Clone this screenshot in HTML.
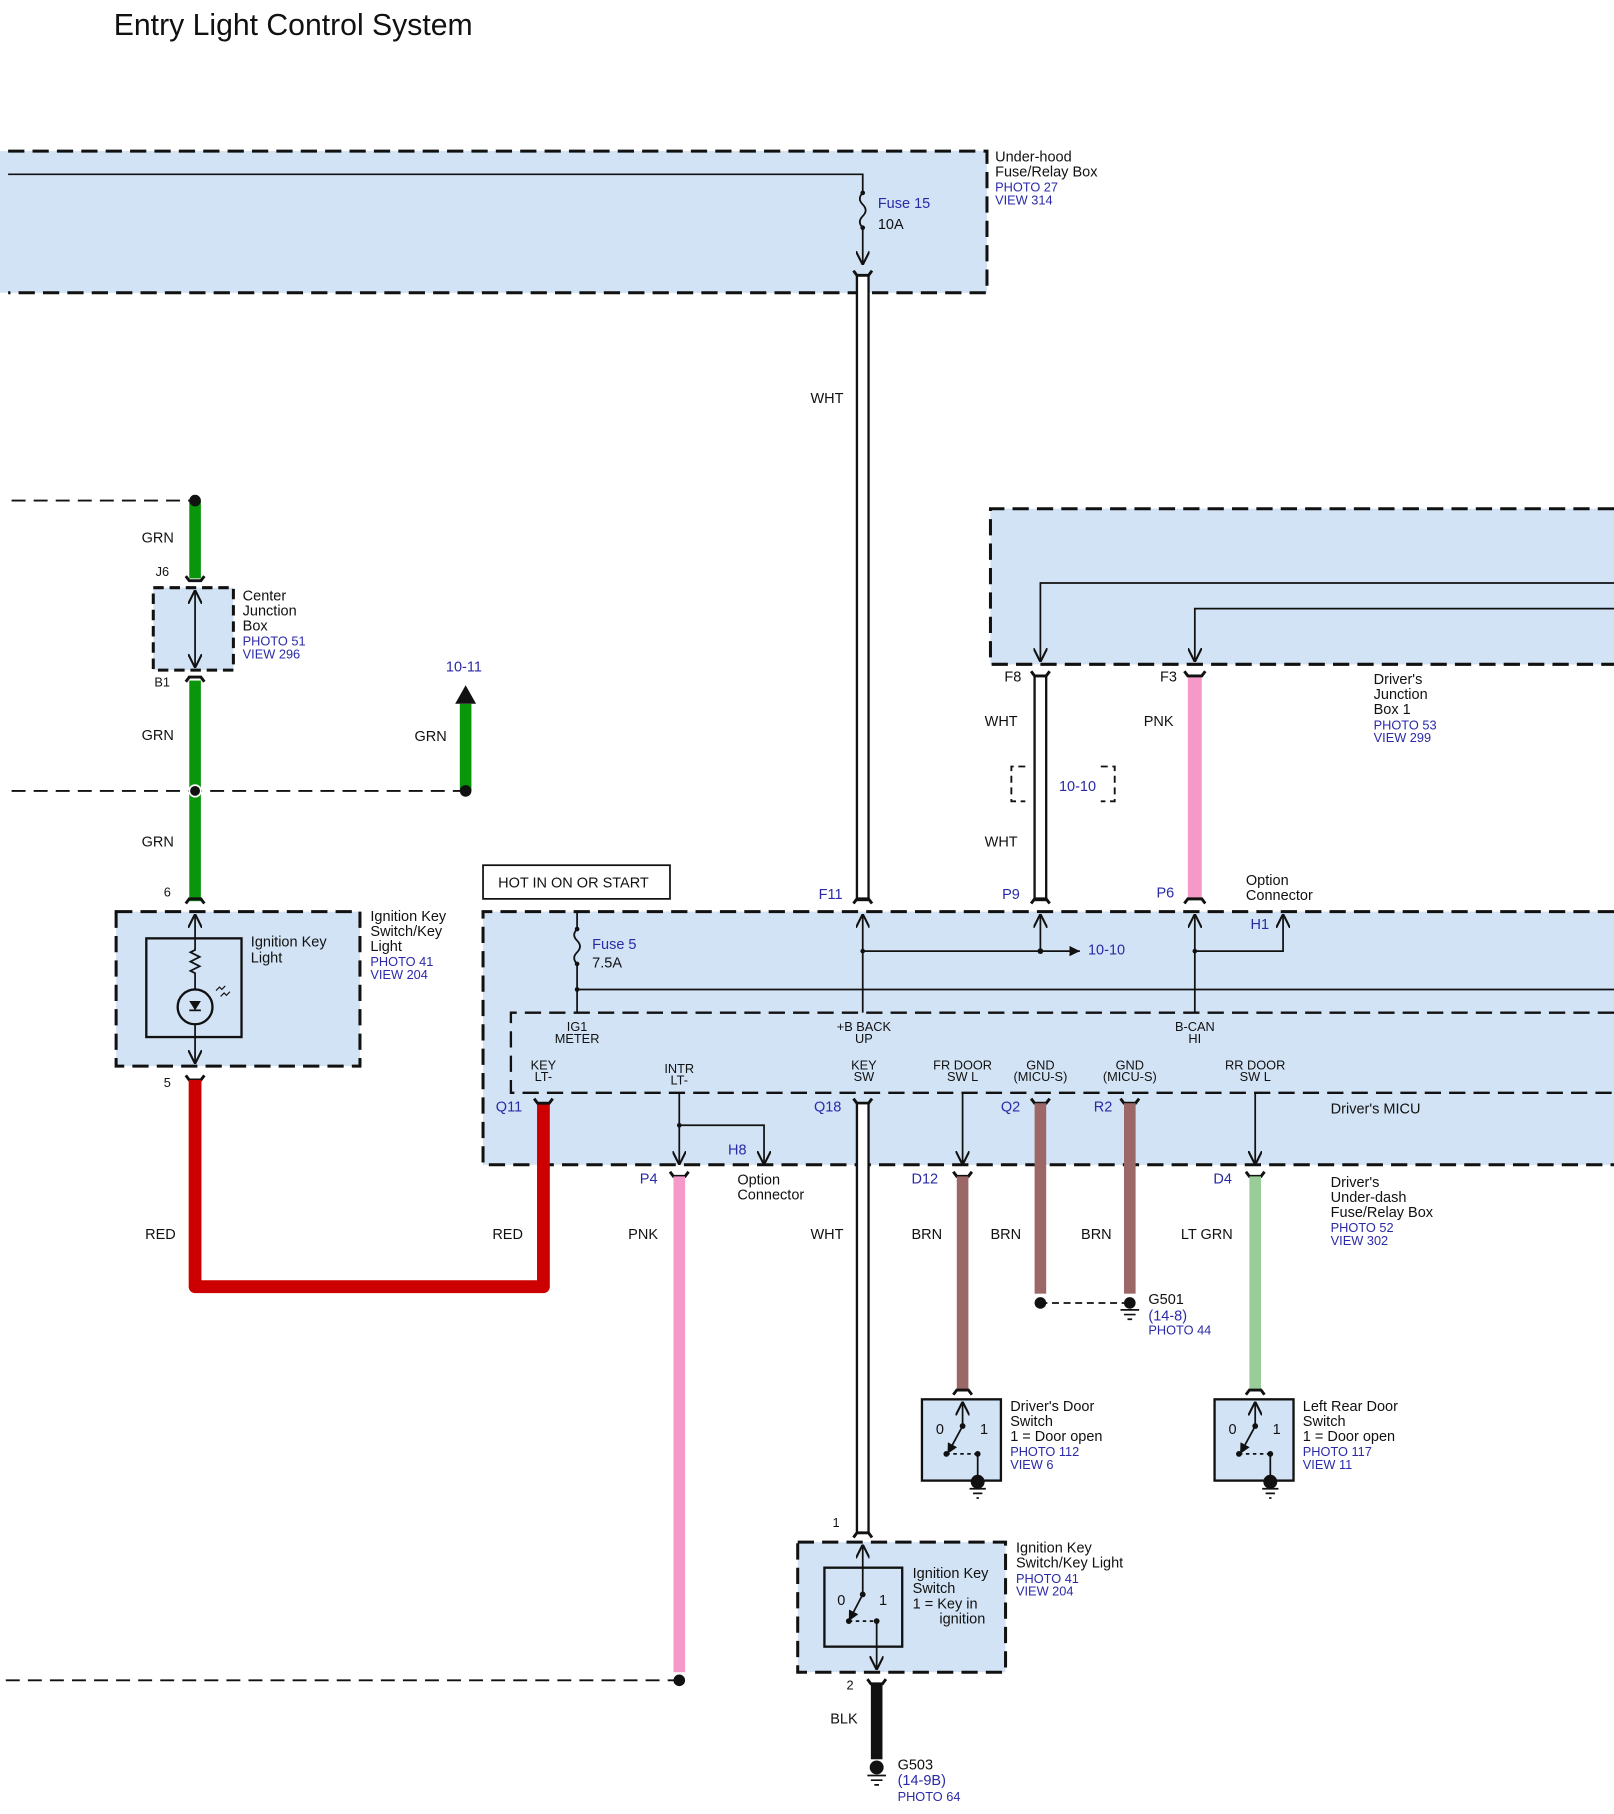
<!DOCTYPE html>
<html><head><meta charset="utf-8"><style>
html,body{margin:0;padding:0;background:#fff;}
svg{display:block;}
text{font-family:"Liberation Sans",sans-serif;font-size:12.5px;fill:#111;}
.b{fill:#2a2aa8;font-size:11px;}
.bl{fill:#2a2aa8;font-size:12.5px;}
.s{font-size:11px;}
.box{fill:#d2e3f5;stroke:#111;stroke-width:2.6;stroke-dasharray:14 7;}
.ln{stroke:#111;stroke-width:1.5;fill:none;}
.dash{stroke:#111;stroke-width:1.6;stroke-dasharray:12 7;fill:none;}
.c{stroke:#111;stroke-width:2.5;fill:none;}
</style></head><body>
<svg width="1614" height="1814" viewBox="0 0 1390 1562" xmlns="http://www.w3.org/2000/svg">
<defs>
<marker id="a" viewBox="0 0 10 10" refX="10" refY="5" markerWidth="8" markerHeight="8" orient="auto-start-reverse"><path d="M0,0 L10,5 L0,10" fill="none" stroke="#111" stroke-width="1.5"/></marker>
<marker id="af" viewBox="0 0 10 10" refX="10" refY="5" markerWidth="6" markerHeight="6" orient="auto"><path d="M0,0 L10,5 L0,10 z" fill="#111"/></marker>
</defs>
<text x="98" y="30" style="font-size:26px">Entry Light Control System</text>

<!-- Under-hood box -->
<path d="M0,130 H850 V252 H0 Z" fill="#d2e3f5"/>
<path d="M7,130 H850 V252 H7" class="box" fill="none"/>
<path d="M7,150 H743 V166" class="ln"/>
<path d="M743,166 q-5,5 0,10 q5,5 0,10 q-5,5 0,10" class="ln"/>
<circle cx="743" cy="166" r="2" fill="#111"/><circle cx="743" cy="196" r="2" fill="#111"/>
<path d="M743,196 V228" class="ln" marker-end="url(#a)"/>
<text x="756" y="179" class="bl">Fuse 15</text><text x="756" y="197">10A</text>
<text x="857" y="139">Under-hood</text><text x="857" y="152">Fuse/Relay Box</text>
<text x="857" y="165" class="b">PHOTO 27</text><text x="857" y="176" class="b">VIEW 314</text>

<!-- WHT main wire -->
<rect x="738" y="237" width="10" height="538" fill="#fff" stroke="#111" stroke-width="2"/>
<path d="M735,233 l3,4 h10 l3,-4" class="c"/>
<text x="698" y="347">WHT</text>

<!-- Driver's junction box 1 -->
<path d="M853,438 H1390 V572 H853 Z" fill="#d2e3f5"/>
<path d="M1390,438 H853 V572 H1390" class="box" fill="none"/>
<path d="M1390,502 H896 V570" class="ln" marker-end="url(#a)"/>
<path d="M1390,524 H1029 V570" class="ln" marker-end="url(#a)"/>
<text x="865" y="587">F8</text><text x="999" y="587">F3</text>
<rect x="891" y="582" width="10" height="193" fill="#fff" stroke="#111" stroke-width="2"/>
<path d="M888,578 l3,4 h10 l3,-4" class="c"/>
<rect x="1023" y="582" width="12" height="193" fill="#f59ac8"/>
<path d="M1020,578 l3,4 h12 l3,-4" class="c"/>
<text x="848" y="625">WHT</text><text x="985" y="625">PNK</text><text x="848" y="729">WHT</text>
<path d="M883,660 h-12 v30 h12 M948,660 h12 v30 h-12" class="dash" style="stroke-dasharray:6 4"/>
<text x="912" y="681" class="bl">10-10</text>
<text x="1183" y="589">Driver's</text><text x="1183" y="602">Junction</text><text x="1183" y="615">Box 1</text>
<text x="1183" y="628" class="b">PHOTO 53</text><text x="1183" y="639" class="b">VIEW 299</text>

<!-- GRN left -->
<path d="M10,431 H168" class="dash"/>
<rect x="163" y="431" width="10" height="67" fill="#0a960a"/>
<circle cx="168" cy="431" r="5" fill="#111"/>
<text x="122" y="467">GRN</text><text x="134" y="496" class="s">J6</text>
<path d="M160,496 l3,4 h10 l3,-4" class="c"/>
<rect x="132" y="506" width="69" height="71" class="box" style="stroke-dasharray:9 5"/>
<path d="M168,508 V575" class="ln" marker-start="url(#a)" marker-end="url(#a)"/>
<text x="209" y="517">Center</text><text x="209" y="530">Junction</text><text x="209" y="543">Box</text>
<text x="209" y="556" class="b">PHOTO 51</text><text x="209" y="567" class="b">VIEW 296</text>
<text x="133" y="591" class="s">B1</text>
<path d="M160,587 l3,-4 h10 l3,4" class="c"/>
<rect x="163" y="586" width="10" height="190" fill="#0a960a"/>
<text x="122" y="637">GRN</text>
<path d="M10,681 H401" class="dash"/>
<circle cx="168" cy="681" r="5" fill="#111" stroke="#fff" stroke-width="1.5"/>
<rect x="396" y="606" width="10" height="75" fill="#0a960a"/>
<path d="M392,606 L401,590 L410,606 Z" fill="#111"/>
<circle cx="401" cy="681" r="5" fill="#111"/>
<text x="384" y="578" class="bl">10-11</text><text x="357" y="638">GRN</text>
<text x="122" y="729">GRN</text><text x="141" y="772" class="s">6</text>
<path d="M160,778 l3,-4 h10 l3,4" class="c"/>

<!-- Ignition key light -->
<rect x="100" y="785" width="210" height="133" class="box"/>
<rect x="126" y="808" width="82" height="85" fill="none" stroke="#111" stroke-width="2"/>
<path d="M168,787 V818 l-4,2 l8,4 l-8,4 l8,4 l-8,4 l4,2 V852" class="ln" marker-start="url(#a)"/>
<circle cx="168" cy="867" r="15" fill="none" stroke="#111" stroke-width="2"/>
<path d="M163,862 h10 l-5,8 z" fill="#111"/><path d="M163,870 h10" class="ln"/>
<path d="M168,882 V916" class="ln" marker-end="url(#a)"/>
<path d="M186,853 l3,-3 l2,2 l3,-3 M190,858 l3,-3 l2,2 l3,-3" class="ln" style="stroke-width:1"/>
<text x="216" y="815">Ignition Key</text><text x="216" y="829">Light</text>
<text x="319" y="793">Ignition Key</text><text x="319" y="806">Switch/Key</text><text x="319" y="819">Light</text>
<text x="319" y="832" class="b">PHOTO 41</text><text x="319" y="843" class="b">VIEW 204</text>
<text x="141" y="936" class="s">5</text>
<path d="M160,926 l3,4 h10 l3,-4" class="c"/>
<text x="125" y="1067">RED</text><text x="424" y="1067">RED</text>

<!-- HOT box -->
<rect x="416" y="745" width="161" height="29" fill="#fff" stroke="#111" stroke-width="1.5"/>
<text x="429" y="764">HOT IN ON OR START</text>

<!-- MICU -->
<path d="M1390,785 H416 V1003 H1390 Z" fill="#d2e3f5"/>
<path d="M1390,785 H416 V1003 H1390" class="box" fill="none"/>
<path d="M1390,872 H440 V941 H1390" class="box" style="fill:none;stroke-width:2"/>
<path d="M168,930 V1108 H468 V950" fill="none" stroke="#cc0000" stroke-width="11" stroke-linejoin="round"/>
<text x="705" y="774" class="bl">F11</text><text x="863" y="774" class="bl">P9</text><text x="996" y="773" class="bl">P6</text>
<path d="M735,778 l3,-4 h10 l3,4" class="c"/>
<path d="M888,778 l3,-4 h10 l3,4" class="c"/>
<path d="M1020,778 l3,-4 h12 l3,4" class="c"/>
<text x="1073" y="762">Option</text><text x="1073" y="775">Connector</text>
<!-- fuse 5 -->
<path d="M497,785 V800 q-5,5 0,10 q5,5 0,10 q-5,5 0,10 V872" class="ln"/>
<circle cx="497" cy="800" r="2" fill="#111"/><circle cx="497" cy="830" r="2" fill="#111"/><circle cx="497" cy="852" r="2" fill="#111"/>
<text x="510" y="817" class="bl">Fuse 5</text><text x="510" y="833">7.5A</text>
<path d="M497,852 H1390" class="ln"/>
<path d="M743,787 V872" class="ln" marker-start="url(#a)"/>
<path d="M743,819 H930" class="ln" marker-end="url(#af)"/>
<circle cx="896" cy="819" r="2.5" fill="#111"/><circle cx="743" cy="819" r="2" fill="#111"/>
<path d="M896,819 V787" class="ln" marker-end="url(#a)"/>
<text x="937" y="822" class="bl">10-10</text>
<path d="M1029,787 V872" class="ln" marker-start="url(#a)"/>
<path d="M1029,819 H1105 V787" class="ln" marker-end="url(#a)"/>
<circle cx="1029" cy="819" r="2" fill="#111"/>
<text x="1077" y="800" class="bl">H1</text>
<g class="s" text-anchor="middle">
<text x="497" y="888" class="s">IG1</text><text x="497" y="898" class="s">METER</text>
<text x="744" y="888" class="s">+B BACK</text><text x="744" y="898" class="s">UP</text>
<text x="1029" y="888" class="s">B-CAN</text><text x="1029" y="898" class="s">HI</text>
<text x="468" y="921" class="s">KEY</text><text x="468" y="931" class="s">LT-</text>
<text x="585" y="924" class="s">INTR</text><text x="585" y="934" class="s">LT-</text>
<text x="744" y="921" class="s">KEY</text><text x="744" y="931" class="s">SW</text>
<text x="829" y="921" class="s">FR DOOR</text><text x="829" y="931" class="s">SW L</text>
<text x="896" y="921" class="s">GND</text><text x="896" y="931" class="s">(MICU-S)</text>
<text x="973" y="921" class="s">GND</text><text x="973" y="931" class="s">(MICU-S)</text>
<text x="1081" y="921" class="s">RR DOOR</text><text x="1081" y="931" class="s">SW L</text>
</g>
<text x="427" y="957" class="bl">Q11</text><text x="701" y="957" class="bl">Q18</text>
<text x="862" y="957" class="bl">Q2</text><text x="942" y="957" class="bl">R2</text>
<text x="1146" y="959">Driver's MICU</text>
<path d="M460,946 l3,4 h10 l3,-4" class="c"/>
<path d="M735,946 l3,4 h10 l3,-4" class="c"/>
<path d="M888,946 l3,4 h10 l3,-4" class="c"/>
<path d="M965,946 l3,4 h10 l3,-4" class="c"/>
<!-- INTR -->
<path d="M585,941 V1003" class="ln" marker-end="url(#a)"/>
<path d="M585,969 H658 V1003" class="ln" marker-end="url(#a)"/>
<circle cx="585" cy="969" r="2" fill="#111"/>
<text x="627" y="994" class="bl">H8</text>
<text x="551" y="1019" class="bl">P4</text>
<text x="635" y="1020">Option</text><text x="635" y="1033">Connector</text>
<path d="M577,1009 l3,4 h10 l3,-4" class="c"/>
<rect x="580" y="1013" width="10" height="427" fill="#f59ac8"/>
<path d="M5,1447 H585" class="dash"/>
<circle cx="585" cy="1447" r="5" fill="#111"/>
<text x="541" y="1067">PNK</text>
<!-- KEY SW -->
<rect x="738" y="950" width="10" height="370" fill="#fff" stroke="#111" stroke-width="2"/>
<text x="698" y="1067">WHT</text>
<!-- FR DOOR -->
<path d="M829,941 V1003" class="ln" marker-end="url(#a)"/>
<text x="785" y="1019" class="bl">D12</text>
<path d="M821,1009 l3,4 h10 l3,-4" class="c"/>
<rect x="824" y="1013" width="10" height="185" fill="#9c6767"/>
<text x="785" y="1067">BRN</text>
<rect x="891" y="950" width="10" height="164" fill="#9c6767"/>
<rect x="968" y="950" width="10" height="164" fill="#9c6767"/>
<text x="853" y="1067">BRN</text><text x="931" y="1067">BRN</text>
<circle cx="896" cy="1122" r="5" fill="#111"/>
<path d="M896,1122 H973" class="ln" stroke-dasharray="6 4"/>
<circle cx="973" cy="1122" r="5" fill="#111"/>
<path d="M965,1128 h16 M968,1132 h10 M971,1136 h4" class="ln"/>
<text x="989" y="1123">G501</text><text x="989" y="1137" class="bl">(14-8)</text><text x="989" y="1149" class="b">PHOTO 44</text>
<!-- RR DOOR -->
<path d="M1081,941 V1003" class="ln" marker-end="url(#a)"/>
<text x="1045" y="1019" class="bl">D4</text>
<path d="M1073,1009 l3,4 h10 l3,-4" class="c"/>
<rect x="1076" y="1013" width="10" height="185" fill="#99cc99"/>
<text x="1017" y="1067">LT GRN</text>
<text x="1146" y="1022">Driver's</text><text x="1146" y="1035">Under-dash</text><text x="1146" y="1048">Fuse/Relay Box</text>
<text x="1146" y="1061" class="b">PHOTO 52</text><text x="1146" y="1072" class="b">VIEW 302</text>

<!-- door switches -->
<g id="sw1">
<path d="M821,1201 l3,-4 h10 l3,4" class="c"/>
<rect x="794" y="1205" width="68" height="70" fill="#d2e3f5" stroke="#111" stroke-width="2"/>
<path d="M829,1227 V1207" class="ln" marker-end="url(#a)"/>
<circle cx="829" cy="1228" r="2.5" fill="#111"/>
<path d="M829,1228 L816,1252" class="ln" marker-end="url(#af)"/>
<circle cx="815" cy="1252" r="2.5" fill="#111"/><circle cx="842" cy="1252" r="2.5" fill="#111"/>
<path d="M815,1252 H842" class="ln" stroke-dasharray="3 3"/>
<path d="M842,1252 V1275" class="ln" stroke-width="2"/>
<circle cx="842" cy="1276" r="6" fill="#111"/>
<path d="M835,1282 h14 M838,1286 h8 M841,1290 h2" class="ln"/>
<text x="806" y="1235">0</text><text x="844" y="1235">1</text>
</g>
<text x="870" y="1215">Driver's Door</text><text x="870" y="1228">Switch</text><text x="870" y="1241">1 = Door open</text>
<text x="870" y="1254" class="b">PHOTO 112</text><text x="870" y="1265" class="b">VIEW 6</text>
<use href="#sw1" x="252"/>
<text x="1122" y="1215">Left Rear Door</text><text x="1122" y="1228">Switch</text><text x="1122" y="1241">1 = Door open</text>
<text x="1122" y="1254" class="b">PHOTO 117</text><text x="1122" y="1265" class="b">VIEW 11</text>

<!-- ignition key switch -->
<text x="717" y="1315" class="s">1</text>
<path d="M735,1324 l3,-4 h10 l3,4" class="c"/>
<rect x="687" y="1328" width="179" height="112" class="box"/>
<rect x="710" y="1350" width="67" height="68" fill="none" stroke="#111" stroke-width="2"/>
<path d="M743,1372 V1330" class="ln" marker-end="url(#a)"/>
<circle cx="743" cy="1373" r="2.5" fill="#111"/>
<path d="M743,1373 L731,1396" class="ln" marker-end="url(#af)"/>
<circle cx="731" cy="1396" r="2.5" fill="#111"/><circle cx="755" cy="1396" r="2.5" fill="#111"/>
<path d="M731,1396 H755" class="ln" stroke-dasharray="3 3"/>
<path d="M755,1396 V1438" class="ln" marker-end="url(#a)"/>
<text x="721" y="1382">0</text><text x="757" y="1382">1</text>
<text x="786" y="1359">Ignition Key</text><text x="786" y="1372">Switch</text><text x="786" y="1385">1 = Key in</text><text x="809" y="1398">ignition</text>
<text x="875" y="1337">Ignition Key</text><text x="875" y="1350">Switch/Key Light</text>
<text x="875" y="1363" class="b">PHOTO 41</text><text x="875" y="1374" class="b">VIEW 204</text>
<text x="729" y="1455" class="s">2</text>
<path d="M747,1446 l3,4 h10 l3,-4" class="c"/>
<rect x="750" y="1450" width="10" height="65" fill="#111"/>
<text x="715" y="1484">BLK</text>
<circle cx="755" cy="1522" r="6" fill="#111"/>
<path d="M747,1529 h16 M750,1533 h10 M753,1537 h4" class="ln"/>
<text x="773" y="1524">G503</text><text x="773" y="1537" class="bl">(14-9B)</text><text x="773" y="1551" class="b">PHOTO 64</text>
</svg>
</body></html>
